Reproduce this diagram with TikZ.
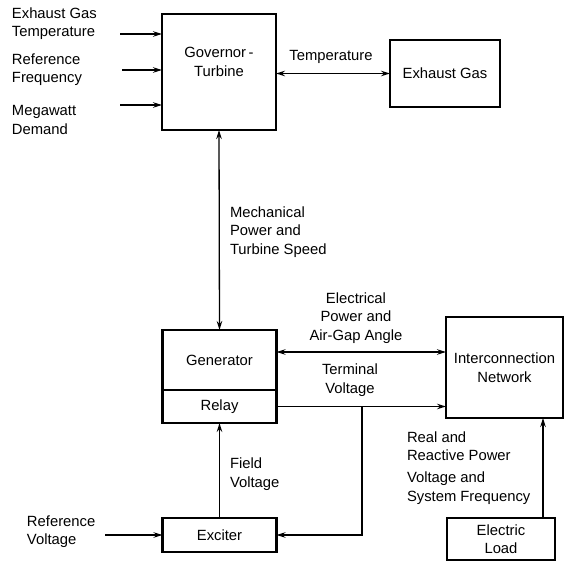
\documentclass[tikz,border=0pt]{standalone}
\usepackage{fontspec}
\setmainfont{Liberation Sans}
\usetikzlibrary{arrows.meta}
\begin{document}
\begin{tikzpicture}[x=1pt,y=-1pt,
  every node/.style={font=\fontsize{14.8}{18.5}\selectfont, inner sep=0pt, outer sep=0pt},
  box/.style={draw, line width=2.2pt, align=center},
  lab/.style={align=left, anchor=west},
  conn/.style={line width=1.3pt, -{Stealth[length=9pt,width=5.5pt]}},
  conn2/.style={line width=1.3pt, {Stealth[length=9pt,width=5.5pt]}-{Stealth[length=9pt,width=5.5pt]}}]
\useasboundingbox (0,0) rectangle (574,567);
% boxes
\node[box, minimum width=114pt, minimum height=116pt] (gov) at (219,72) {};
\node[align=center] (govt) at (219,62) {Governor\,-\\Turbine};
\node[box, minimum width=110pt, minimum height=67pt] (eg) at (445,73.5) {Exhaust Gas};
\node[box, minimum width=114pt, minimum height=60pt] (gen) at (219.5,360) {Generator};
\node[box, minimum width=114pt, minimum height=33pt] (relay) at (219.5,406.5) {Relay};
\node[box, minimum width=114pt, minimum height=34pt] (exc) at (219.5,535) {Exciter};
\node[box, minimum width=117pt, minimum height=101pt] (net) at (504.5,367.5) {Interconnection\\Network};
\node[box, minimum width=108pt, minimum height=42pt] (load) at (501,539) {Electric\\Load};
% labels
\node[lab] (l1) at (12,23.5) {Exhaust Gas\\Temperature};
\node[lab] (l2) at (12,69.5) {Reference\\Frequency};
\node[lab] (l3) at (12,120) {Megawatt\\Demand};
\node (lt) at (331,57) {Temperature};
\node[lab] (lm) at (230,232) {Mechanical\\Power and\\Turbine Speed};
\node[align=center] (le) at (356,318) {Electrical\\Power and\\Air-Gap Angle};
\node[align=center] (ltv) at (350,380) {Terminal\\Voltage};
\node[lab] (lf) at (230,474) {Field\\Voltage};
\node[lab] (lr) at (407,446) {Real and\\Reactive Power};
\node[lab] (lv) at (407,488) {Voltage and\\System Frequency};
\node[lab] (lrv) at (27,531.5) {Reference\\Voltage};
% coordinates
\coordinate (i1) at (120,34);
\coordinate (i2) at (122,70);
\coordinate (i3) at (120,105);
\coordinate (ep) at (300,352);
\coordinate (br) at (362,406.5);
\coordinate (rv) at (105,535);
\coordinate (lx) at (543,0);
% connectors
\draw[conn] (i1) -- (i1 -| gov.west);
\draw[conn] (i2) -- (i2 -| gov.west);
\draw[conn] (i3) -- (i3 -| gov.west);
\draw[conn2] (gov.east |- eg.west) -- (eg.west);
\draw[conn2] (gov.south) -- (gen.north);
\draw[conn2] (gen.east |- ep) -- (net.west |- ep);
\draw[conn] (relay.east) -- (relay.east -| net.west);
\draw[conn] (br) |- (exc.east);
\draw[conn] (exc.north) -- (relay.south);
\draw[conn] (rv) -- (exc.west);
\draw[conn] (lx |- load.north) -- (lx |- net.south);
\end{tikzpicture}
\end{document}
